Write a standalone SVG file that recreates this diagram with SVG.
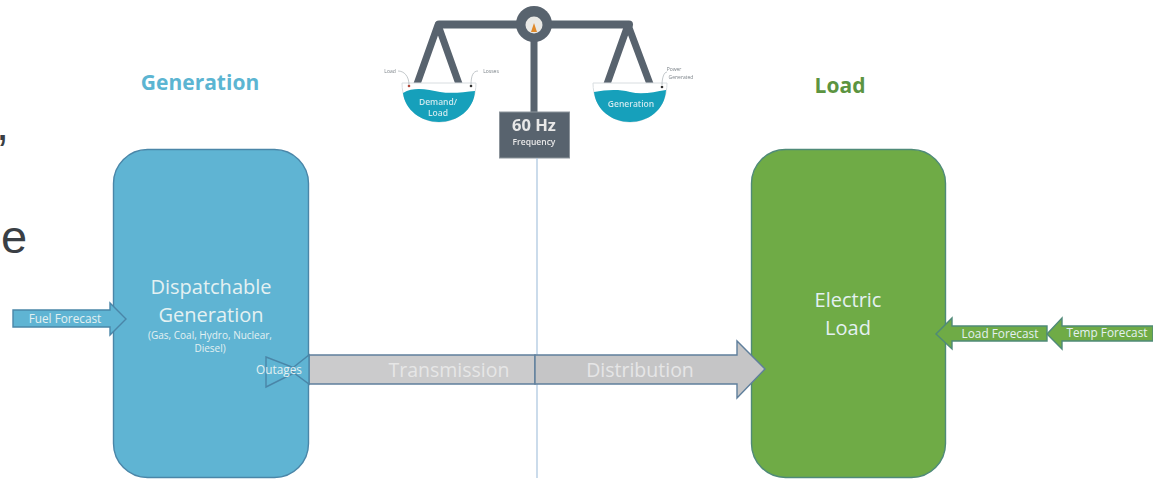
<svg xmlns="http://www.w3.org/2000/svg" width="1153" height="479" viewBox="0 0 1153 479">
<defs><filter id="soft" x="-5%" y="-5%" width="110%" height="110%"><feGaussianBlur stdDeviation="0.6"/></filter></defs>
<style>
text{font-family:"Open Sans","Noto Sans","Liberation Sans",sans-serif;text-anchor:middle}
.w{fill:#e4f1f2}
.box{stroke-width:1.4}
.blue{fill:#5fb4d3;stroke:#4a86a8}
.green{fill:#6fab46;stroke:#4f8a78}
.grey{fill:#c5c5c6;stroke:#5f7f9c;stroke-width:1.4}
.bar{stroke:#59636e;stroke-width:7;fill:none;stroke-linejoin:round;stroke-linecap:round}
.pan{fill:#fff;stroke:#d8dde0;stroke-width:1}
.water{fill:#12a0bb}
.mini{font-size:5px;fill:#7b8288}
.pl{font-size:8.500px;font-weight:600;fill:#cfe8ee}
.slide{font-family:"Liberation Sans",sans-serif;font-size:47px;text-anchor:start;fill:#3a3f45}
.lab{font-size:11.800px}
.big{font-size:19.500px;fill:#e6e6e6}
</style>
<rect width="1153" height="479" fill="#fff"/>
<g id="slide-text">
<text class="slide" x="-4" y="140">,</text>
<text class="slide" x="1" y="253">e</text>
</g>
<g id="titles">
<text x="200" y="90" font-size="21" font-weight="700" fill="#5cb5d2">Generation</text>
<text x="840" y="93" font-size="21" font-weight="700" fill="#5c9440">Load</text>
</g>
<g id="generation">
<rect class="box blue" x="113.500" y="149.500" width="195" height="328" rx="34"/>
<text class="w" x="211" y="294" font-size="20">Dispatchable</text>
<text class="w" x="211" y="322" font-size="20">Generation</text>
<text class="w" x="210" y="339" font-size="10">(Gas, Coal, Hydro, Nuclear,</text>
<text class="w" x="210" y="352" font-size="10">Diesel)</text>
</g>
<g id="load">
<rect class="box green" x="751.500" y="149.500" width="194" height="328" rx="34"/>
<text class="w" x="848" y="307" font-size="20">Electric</text>
<text class="w" x="848" y="335" font-size="20">Load</text>
</g>
<g id="scale" filter="url(#soft)">
<path class="bar" d="M417 84L438 25L459 84M607 84L628 25L650 84M534 24V113"/>
<path class="bar" style="stroke-width:8" d="M439 24.500H629"/>
<circle cx="534" cy="24" r="18" fill="#59636e"/>
<circle cx="534" cy="25" r="8.500" fill="#e9e9e6"/>
<path d="M531 32L534 23L537 32Z" fill="#e08a2c"/>
<path class="pan" d="M402 83H476C476 108 458 122 439 122C420 122 402 108 402 83Z"/>
<path class="water" d="M403 93C415 86 428 90 440 92C452 94 464 92 475 91C474 110 457 122 439 122C421 122 405 110 403 93Z"/>
<path class="pan" d="M593 83H667C667 108 649 122 630 122C611 122 593 108 593 83Z"/>
<path class="water" d="M594 92C606 90 618 89 630 92C642 95 654 92 666 90C665 110 648 122 630 122C612 122 596 110 594 92Z"/>
<circle cx="409" cy="86" r="1.300" fill="#b34a3a"/><circle cx="471" cy="86" r="1.300" fill="#333"/><circle cx="662" cy="87" r="1.300" fill="#333"/>
<path d="M398 71C404 71 409 76 409 85M471 85C471 76 473 71 478 71M662 85C662 78 664 72 667 72" fill="none" stroke="#9aa2a8" stroke-width=".6"/>
<text class="mini" x="390" y="73">Load</text>
<text class="mini" x="491" y="73">Losses</text>
<text class="mini" x="674" y="71">Power</text>
<text class="mini" x="681" y="79">Generated</text>
<text class="pl" x="438" y="105">Demand/</text>
<text class="pl" x="438" y="116">Load</text>
<text class="pl" x="631" y="107">Generation</text>
<rect x="499.500" y="112" width="70" height="46" fill="#59636e" stroke="#8c949b"/>
<text x="534" y="131" font-size="16.500" font-weight="700" fill="#e8e8e8">60 Hz</text>
<text x="534" y="145" font-size="8.500" font-weight="600" fill="#e8e8e8">Frequency</text>
</g>
<g id="connectors">
<path d="M537 158V478" fill="none" stroke="#a8c4de" stroke-width="1.200"/>
<path class="grey" style="fill:#cbcbcc" d="M309 355H535V384H309Z"/>
<path class="grey" d="M535 355H737V341L765 369L737 398V384H535Z"/>
<path class="blue" stroke-width="1.400" d="M266 357L300 370L266 387Z"/>
<path class="blue" stroke-width="1.400" d="M290 370L309 355V384Z"/>
<path class="blue" stroke-width="1.400" d="M13 310H110V303L126 319L110 335V327H13Z"/>
<path class="green" stroke-width="1.400" d="M1047 326H952V318L936 334L952 349V341H1047Z"/>
<path class="green" stroke-width="1.400" d="M1153 326H1062V318L1047 334L1062 349V341H1153Z"/>
<text class="w lab" x="65" y="323">Fuel Forecast</text>
<text class="w lab" x="279" y="374">Outages</text>
<text class="w big" x="449" y="377">Transmission</text>
<text class="w big" x="640" y="377">Distribution</text>
<text class="w lab" x="1000" y="338">Load Forecast</text>
<text class="w lab" x="1107" y="337">Temp Forecast</text>
</g>
</svg>
